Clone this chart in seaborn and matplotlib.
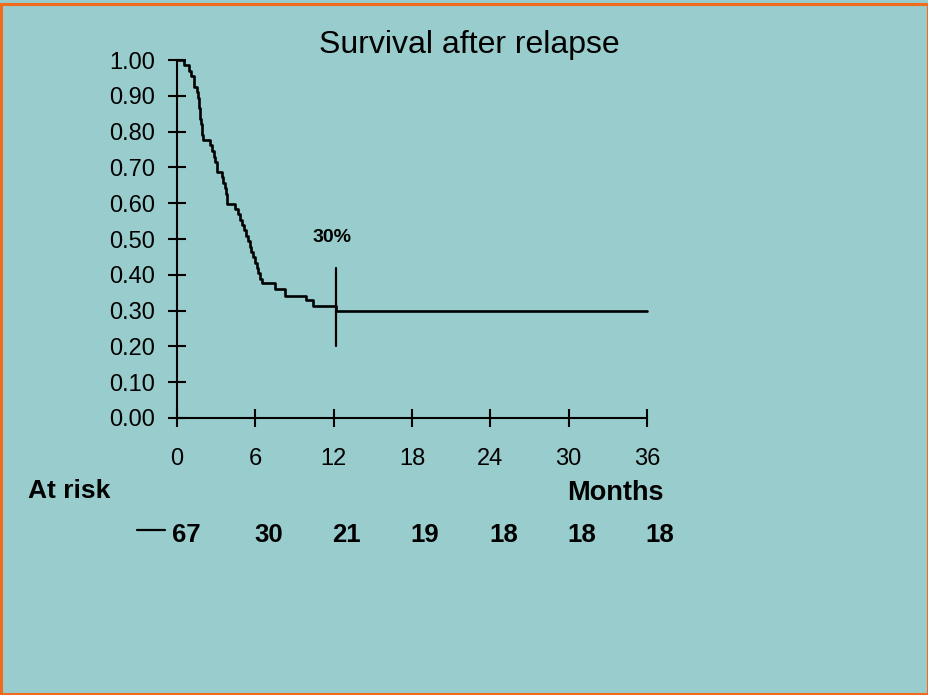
import pandas as pd
import matplotlib.pyplot as plt
import matplotlib.lines as mlines
import matplotlib.patches as mpatches
import matplotlib.transforms as mtransforms
import seaborn as sns

# Kaplan-Meier steps (months, survival)
months = [0, 0.5, 0.9, 1.1, 1.3, 1.55, 1.6, 1.65, 1.7, 1.8, 1.85, 1.95, 2.0,
          2.5, 2.65, 2.8, 2.9, 3.05, 3.45, 3.55, 3.65, 3.75, 3.85,
          4.45, 4.7, 4.85, 5.0, 5.1, 5.3, 5.45, 5.6, 5.7, 5.85, 5.95, 6.1,
          6.2, 6.35, 6.55, 7.5, 8.25, 9.9, 10.4, 12.2, 36]
survival = [1.00, 0.985, 0.97, 0.955, 0.925, 0.91, 0.895, 0.88, 0.865, 0.835,
            0.82, 0.79, 0.777, 0.762, 0.746, 0.73, 0.716, 0.688, 0.672, 0.657,
            0.642, 0.627, 0.598, 0.584, 0.569, 0.554, 0.539, 0.524, 0.509,
            0.494, 0.479, 0.464, 0.449, 0.434, 0.419, 0.404, 0.388, 0.376,
            0.36, 0.342, 0.33, 0.313, 0.30, 0.30]

tick_months = [0, 6, 12, 18, 24, 30, 36]
at_risk = [67, 30, 21, 19, 18, 18, 18]
mark_month = 12.2
mark_label = '30%'

bg = '#99CCCC'
border = '#F26A1B'

sns.set_style('white')
plt.rcParams['font.family'] = ['Liberation Sans', 'DejaVu Sans']
plt.rcParams['text.color'] = 'black'

fig = plt.figure(figsize=(9.29, 6.95), dpi=100, facecolor=bg)
ax = fig.add_axes([0.1905, 0.3986, 0.5059, 0.515])
ax.set_facecolor(bg)

df = pd.DataFrame({'Months': months, 'Survival': survival})
sns.lineplot(data=df, x='Months', y='Survival', drawstyle='steps-post',
             estimator=None, color='black', linewidth=1.9, ax=ax)
for ln in ax.lines:
    ln.set_clip_on(False)

# censor mark at 12 months
ax.plot([mark_month, mark_month], [0.20, 0.42], color='black', lw=1.6, clip_on=False)
ax.text(mark_month - 0.3, 0.492, mark_label, ha='center', va='baseline',
        fontsize=14, fontweight='bold', color='black')

ax.set_xlim(0, 36)
ax.set_ylim(0, 1)
ax.set_xticks(tick_months)
ax.set_yticks([i / 10 for i in range(11)])
ax.set_yticklabels(['%.2f' % (i / 10) for i in range(11)])
ax.set_xlabel('')
ax.set_ylabel('')
ax.spines['top'].set_visible(False)
ax.spines['right'].set_visible(False)
for s in ['left', 'bottom']:
    ax.spines[s].set_linewidth(1.5)
    ax.spines[s].set_color('black')
ax.tick_params(axis='both', direction='inout', length=13, width=1.5,
               color='black', labelsize=17, labelcolor='black',
               bottom=True, left=True)
ax.tick_params(axis='y', pad=9)
ax.tick_params(axis='x', pad=15)

fig.text(469 / 929, 1 - 53 / 695, 'Survival after relapse', ha='center',
         va='baseline', fontsize=23, color='black')
fig.text(28 / 929, 1 - 498 / 695, 'At risk', ha='left', va='baseline',
         fontsize=19, fontweight='bold', color='black')
fig.text(567 / 929, 1 - 500 / 695, 'Months', ha='left', va='baseline',
         fontsize=19.5, fontweight='bold', color='black')

# at-risk numbers under each tick
trans = mtransforms.blended_transform_factory(ax.transData, fig.transFigure)
for m, n in zip(tick_months, at_risk):
    off = 0.7 if m == 0 else 1.0
    ax.text(m + off, 1 - 542 / 695, str(n), transform=trans, ha='center',
            va='baseline', fontsize=18.5, fontweight='bold', color='black')
fig.add_artist(mlines.Line2D([137 / 929, 165 / 929], [1 - 530 / 695, 1 - 530 / 695],
                             color='black', lw=1.6, transform=fig.transFigure))

fig.add_artist(mpatches.Rectangle((1 / 929, 1 / 695), 927 / 929, 690 / 695,
                                  fill=False, edgecolor=border, lw=2.2,
                                  transform=fig.transFigure))

fig.savefig('out.png', dpi=100, facecolor=bg)
